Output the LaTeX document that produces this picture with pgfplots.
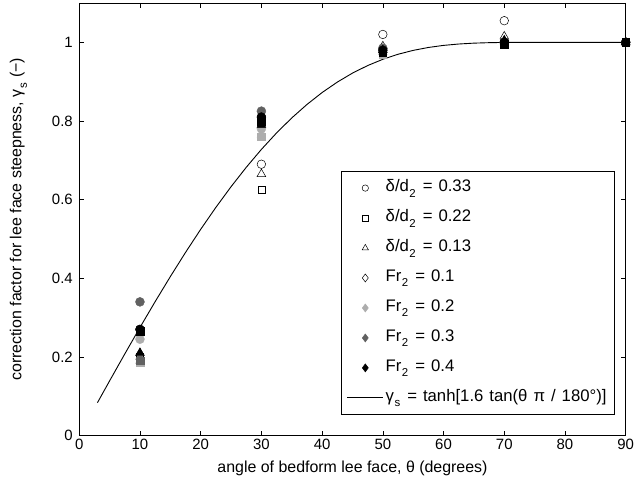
\documentclass[border=0pt]{standalone}
\usepackage{fontspec}
\setmainfont{Liberation Sans}
\usepackage{pgfplots}
\pgfplotsset{compat=1.18}
\newcommand\sub[1]{\hspace{0.5bp}\raisebox{-5.5bp}{\fontsize{11.5}{11.5}\selectfont #1}\hspace{1bp}}
\newcommand\legfont{\fontsize{16.8}{19}\selectfont\spaceskip 6bp plus 1bp\relax}
\definecolor{lg}{gray}{0.68}
\definecolor{dg}{gray}{0.38}
\begin{document}
\begin{tikzpicture}
\begin{axis}[
  scale only axis, width=547bp, height=433bp,
  xmin=0, xmax=90, ymin=0, ymax=1.1,
  xtick={0,10,...,90},
  ytick={0,0.2,0.4,0.6,0.8,1}, yticklabels={0,0.2,0.4,0.6,0.8,1},
  tick align=inside, tick pos=both,
  major tick length=5bp,
  axis line style={line width=0.5bp}, tick style={line width=0.5bp, black},
  font=\fontsize{16}{19}\selectfont,
  /pgf/number format/assume math mode=true,
  tick label style={font=\fontsize{15}{18}\selectfont},
  yticklabel style={xshift=-3bp},
  xticklabel style={inner xsep=1bp},
  every axis x label/.style={at={([yshift=-37bp]axis description cs:0.5,0)}, anchor=base, text depth=9bp},
  every axis y label/.style={at={([xshift=-58bp]axis description cs:0,0.5)}, rotate=90, anchor=base, text height=18bp},
  xlabel={angle of bedform lee face, θ (degrees)},
  ylabel={correction factor for lee face steepness, γ\sub{s} (−)},
  clip=false,
  legend image code/.code={\draw[mark repeat=2,mark phase=2,#1] plot coordinates {(0bp,0bp) (18bp,0bp) (36bp,0bp)};},
  legend style={at={(0.980,0.0485)}, anchor=south east, draw=black, line width=0.5bp,
    font=\legfont, row sep=7bp, inner xsep=6bp, inner ysep=5bp,
    nodes={text height=13bp, text depth=6bp, inner sep=2bp},
    /tikz/every even column/.append style={column sep=1bp}},
  legend cell align=left,
]
% legend entries
\addlegendimage{only marks, mark=o, mark size=3.2bp, black, line width=0.5bp}
\addlegendentry{δ/d\sub{2} = 0.33}
\addlegendimage{only marks, mark=square, mark size=2.8bp, black, line width=0.5bp}
\addlegendentry{δ/d\sub{2} = 0.22}
\addlegendimage{only marks, mark=triangle, mark size=3.6bp, black, line width=0.5bp}
\addlegendentry{δ/d\sub{2} = 0.13}
\addlegendimage{only marks, mark=diamond, mark size=4bp, black, line width=0.5bp}
\addlegendentry{Fr\sub{2} = 0.1}
\addlegendimage{only marks, mark=diamond*, mark size=4bp, lg, line width=0.5bp}
\addlegendentry{Fr\sub{2} = 0.2}
\addlegendimage{only marks, mark=diamond*, mark size=4bp, dg, line width=0.5bp}
\addlegendentry{Fr\sub{2} = 0.3}
\addlegendimage{only marks, mark=diamond*, mark size=4bp, black, line width=0.5bp}
\addlegendentry{Fr\sub{2} = 0.4}
\addlegendimage{black, line width=0.8bp}
\addlegendentry{γ\sub{s} = tanh[1.6 tan(θ π / 180°)]}

% curve gamma_s = tanh[1.6 tan(theta pi/180)]
\addplot[black, line width=0.9bp, forget plot] coordinates {
(3,0.0837)(5,0.1391)(7.5,0.2076)(10,0.2749)(12.5,0.3405)(15,0.4042)(17.5,0.4656)
(20,0.5244)(22.5,0.5802)(25,0.6328)(27.5,0.6820)(30,0.7277)(32.5,0.7696)(35,0.8077)
(37.5,0.8419)(40,0.8723)(42.5,0.8988)(45,0.9217)(47.5,0.9409)(50,0.9568)(52.5,0.9696)
(55,0.9795)(57.5,0.9869)(60,0.9922)(62.5,0.9957)(65,0.9979)(67.5,0.9991)(70,0.9997)
(75,1.0)(80,1.0)(90,1.0)};

% Fr = 0.1 (open markers)
\addplot[only marks, forget plot, mark=o, mark size=4.3bp, black, line width=0.5bp, mark options={fill=white}] coordinates {(10,0.27)(30,0.69)(50,1.02)(70,1.055)(90,1.0)};
\addplot[only marks, forget plot, mark=square, mark size=3.6bp, black, line width=0.5bp, mark options={fill=white}] coordinates {(10,0.20)(30,0.625)(50,0.975)(70,1.0)(90,1.0)};
\addplot[only marks, forget plot, mark=triangle, mark size=5bp, black, line width=0.5bp, mark options={fill=white}] coordinates {(10,0.21)(30,0.665)(50,0.99)(70,1.015)(90,1.0)};
% Fr = 0.2
\addplot[only marks, forget plot, mark=*, mark size=4.5bp, lg] coordinates {(10,0.245)(30,0.78)(50,0.975)(70,1.0)(90,1.0)};
\addplot[only marks, forget plot, mark=square*, mark size=3.8bp, lg] coordinates {(10,0.185)(30,0.76)(50,0.97)(70,0.995)(90,1.0)};
\addplot[only marks, forget plot, mark=triangle*, mark size=5bp, lg] coordinates {(10,0.19)(30,0.765)(50,0.975)(70,1.0)(90,1.0)};
% Fr = 0.3
\addplot[only marks, forget plot, mark=*, mark size=4.5bp, dg] coordinates {(10,0.34)(30,0.825)(50,0.985)(70,1.0)(90,1.0)};
\addplot[only marks, forget plot, mark=square*, mark size=3.8bp, dg] coordinates {(10,0.19)(30,0.805)(50,0.975)(70,1.0)(90,1.0)};
\addplot[only marks, forget plot, mark=triangle*, mark size=5bp, dg] coordinates {(10,0.20)(30,0.79)(50,0.98)(70,1.005)(90,1.0)};
% Fr = 0.4
\addplot[only marks, forget plot, mark=*, mark size=4.5bp, black] coordinates {(10,0.27)(30,0.81)(50,0.98)(70,1.0)(90,1.0)};
\addplot[only marks, forget plot, mark=square*, mark size=3.8bp, black] coordinates {(10,0.265)(30,0.80)(50,0.975)(70,0.995)(90,1.0)};
\addplot[only marks, forget plot, mark=triangle*, mark size=5bp, black] coordinates {(10,0.21)(30,0.79)(50,0.98)(70,1.005)(90,1.0)};
\path ([yshift=3bp]rel axis cs:0,1);
\end{axis}
\end{tikzpicture}
\end{document}
